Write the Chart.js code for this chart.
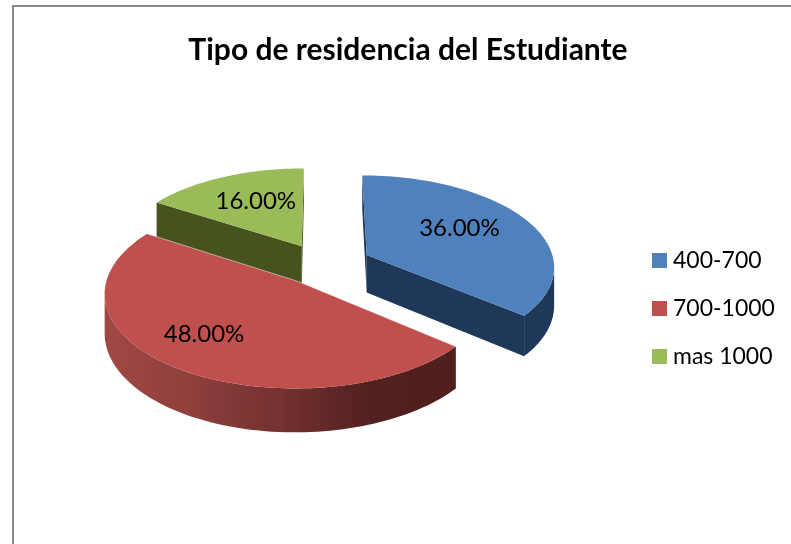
<!DOCTYPE html>
<html>
<head>
<meta charset="utf-8">
<style>
  html, body { margin: 0; padding: 0; background: #fff; overflow: hidden; }
  #frame {
    position: absolute; left: 12px; top: 5px; width: 792px; height: 560px;
    border-left: 2px solid #888; border-top: 2px solid #888;
  }
  canvas { display: block; }
</style>
</head>
<body>
<div id="frame"><canvas id="chart" width="788" height="540"></canvas></div>
<script src="https://cdn.jsdelivr.net/npm/chart.js@4"></script>
<script>
// datos del grafico
const categories = ['400-700', '700-1000', 'mas 1000'];
const shares = [36, 48, 16];

// estilo de las porciones
const topColors = ['#4f81bd', '#c0504d', '#9bbb59'];
const cutColors = ['#1f3859', '#4f1f1c', '#46531f'];
const wallStops = [
    ['#1f3859', '#1f3859'],
    ['#a04845', '#8e3f3c', '#733130', '#532120', '#4f1f1c'],
    ['#46531f', '#46531f']
];
const explode = [0.26, 0.22, 0.24];
const labelShift = [[-4, -5], [-21, 4], [3, -2]];
const drawOrder = [2, 0, 1];

// vista en perspectiva del plano del pastel
const view = { dx: -85, y: 258, horizon: -542, radius: 188, tilt: 0.1135, depth: 38 };
const legendBox = { x: 638, y: 253.5, size: 15, gap: 6, step: 48 };

function project(el, u, v) {
    const s = 1 / (1 - view.tilt * v);
    const h = view.y - view.horizon;
    return { x: el.x + view.dx + view.radius * u * s, y: view.horizon + h * s, s };
}

function slicePoints(el, i) {
    const mid = (el.startAngle + el.endAngle) / 2;
    const ox = Math.cos(mid) * explode[i];
    const oy = Math.sin(mid) * explode[i];
    const pts = [project(el, ox, oy)];
    const steps = Math.ceil((el.endAngle - el.startAngle) / 0.03);
    for (let k = 0; k <= steps; k++) {
        const a = el.startAngle + (el.endAngle - el.startAngle) * k / steps;
        pts.push(project(el, ox + Math.cos(a), oy + Math.sin(a)));
    }
    return pts;
}

function fillWall(ctx, run, style) {
    ctx.beginPath();
    run.forEach((p, k) => (k ? ctx.lineTo(p.x, p.y) : ctx.moveTo(p.x, p.y)));
    run.slice().reverse().forEach(p => ctx.lineTo(p.x, p.y + view.depth * p.s));
    ctx.closePath();
    ctx.fillStyle = style;
    ctx.fill();
}

function drawSlice(ctx, el, i) {
    const pts = slicePoints(el, i);
    const last = pts.length - 1;

    // caras de corte visibles
    if (pts[1].x < pts[0].x) fillWall(ctx, [pts[0], pts[1]], cutColors[i]);
    if (pts[0].x < pts[last].x) fillWall(ctx, [pts[last], pts[0]], cutColors[i]);

    // pared exterior visible
    const run = [];
    for (let k = 1; k < last; k++) {
        if (pts[k + 1].x < pts[k].x) {
            if (!run.length) run.push(pts[k]);
            run.push(pts[k + 1]);
        }
    }
    if (run.length) {
        const grad = ctx.createLinearGradient(run[run.length - 1].x, 0, run[0].x, 0);
        wallStops[i].forEach((c, k) => grad.addColorStop(k / (wallStops[i].length - 1), c));
        fillWall(ctx, run, grad);
    }

    // cara superior
    ctx.beginPath();
    pts.forEach((p, k) => (k ? ctx.lineTo(p.x, p.y) : ctx.moveTo(p.x, p.y)));
    ctx.closePath();
    ctx.fillStyle = topColors[i];
    ctx.fill();

    // brillo en los cortes que miran hacia atras
    ctx.strokeStyle = 'rgba(255,255,255,0.5)';
    ctx.lineWidth = 1;
    [[pts[0], pts[1]], [pts[last], pts[0]]].forEach(([p, q]) => {
        if (q.x >= p.x) {
            ctx.beginPath();
            ctx.moveTo(p.x, p.y);
            ctx.lineTo(q.x, q.y);
            ctx.stroke();
        }
    });
}

function drawLabel(ctx, el, i) {
    const mid = (el.startAngle + el.endAngle) / 2;
    const r = explode[i] + 0.6;
    const p = project(el, Math.cos(mid) * r, Math.sin(mid) * r);
    ctx.fillStyle = '#000';
    ctx.font = '24px Lato';
    ctx.textAlign = 'center';
    ctx.textBaseline = 'middle';
    ctx.fillText(shares[i].toFixed(2) + '%', p.x + labelShift[i][0], p.y + labelShift[i][1]);
}

function drawLegend(ctx) {
    ctx.font = '23px Lato';
    ctx.textAlign = 'left';
    ctx.textBaseline = 'middle';
    categories.forEach((name, i) => {
        const y = legendBox.y + legendBox.step * i;
        ctx.fillStyle = topColors[i];
        ctx.fillRect(legendBox.x, y - legendBox.size / 2, legendBox.size, legendBox.size);
        ctx.fillStyle = '#000';
        ctx.fillText(name, legendBox.x + legendBox.size + legendBox.gap, y);
    });
}

const pie3d = {
    id: 'pie3d',
    beforeDatasetDraw(chart, args) {
        const ctx = chart.ctx;
        const arcs = args.meta.data;
        ctx.save();
        drawOrder.forEach(i => drawSlice(ctx, arcs[i], i));
        drawOrder.forEach(i => drawLabel(ctx, arcs[i], i));
        drawLegend(ctx);
        ctx.restore();
        return false;
    }
};

new Chart(document.getElementById('chart').getContext('2d'), {
    type: 'pie',
    data: {
        labels: categories,
        datasets: [{
            data: shares,
            backgroundColor: topColors,
            borderWidth: 0
        }]
    },
    options: {
        responsive: false,
        animation: false,
        plugins: {
            tooltip: { enabled: false },
            legend: { display: false },
            title: {
                display: true,
                text: 'Tipo de residencia del Estudiante',
                color: '#000',
                font: { family: 'Lato', size: 30, weight: 'bold' },
                padding: { top: 25, bottom: 20 }
            }
        }
    },
    plugins: [pie3d]
});
</script>
</body>
</html>
